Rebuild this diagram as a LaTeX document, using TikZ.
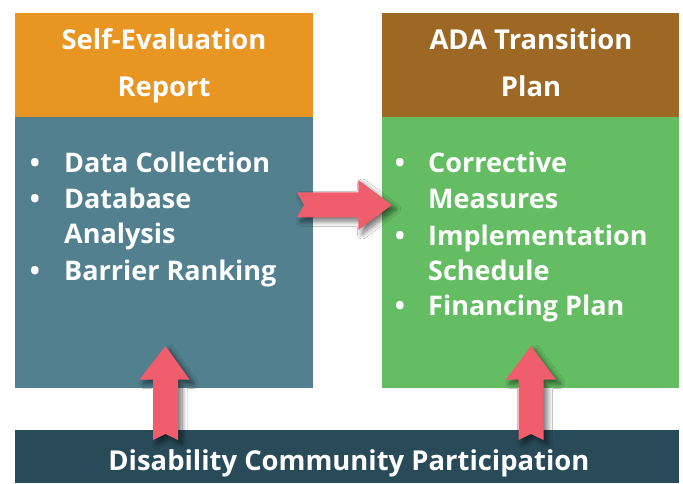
\documentclass[tikz,border=0pt]{standalone}
\usepackage{fontspec}
\setmainfont{Open Sans}
\usetikzlibrary{shadows.blur}
\definecolor{hdrorange}{HTML}{E89522}
\definecolor{bodyblue}{HTML}{52808F}
\definecolor{hdrbrown}{HTML}{9C6823}
\definecolor{bodygreen}{HTML}{64BD63}
\definecolor{barteal}{HTML}{294A59}
\definecolor{arrowpink}{HTML}{F05E6E}
\tikzset{
  panel/.style={rectangle, inner sep=0pt, outer sep=0pt, anchor=south west},
  hdrtext/.style={text=white, font=\bfseries\fontsize{27.4}{34}\selectfont, anchor=base, inner sep=0pt},
  itemtext/.style={text=white, font=\bfseries\fontsize{27}{30}\selectfont, anchor=base west, inner sep=0pt},
  bullettext/.style={text=white, font=\bfseries\fontsize{27}{30}\selectfont, anchor=base, inner sep=0pt},
  bigarrow/.style={fill=arrowpink, draw=none, blur shadow={shadow xshift=4pt, shadow yshift=-4pt, shadow blur steps=10, shadow blur radius=5pt, shadow opacity=55}},
}
\begin{document}
\begin{tikzpicture}[x=1pt,y=1pt]
\useasboundingbox (0,0) rectangle (683,483);
\fill[white] (0,0) rectangle (683,483);
% panels
\node[panel, fill=bodyblue, minimum width=298pt, minimum height=271pt] (lbody) at (15,95) {};
\node[panel, fill=hdrorange, minimum width=298pt, minimum height=104pt] (lhead) at (15,366) {};
\node[panel, fill=bodygreen, minimum width=297pt, minimum height=271pt] (rbody) at (382,95) {};
\node[panel, fill=hdrbrown, minimum width=297pt, minimum height=104pt] (rhead) at (382,366) {};
\node[panel, fill=barteal, minimum width=664pt, minimum height=53pt] (bar) at (15,0) {};
% header texts
\node[hdrtext] (lh1) at (164,433) {Self-Evaluation};
\node[hdrtext] (lh2) at (164,386) {Report};
\node[hdrtext] (rh1) at (531,433) {ADA Transition};
\node[hdrtext] (rh2) at (531,386) {Plan};
% left items
\node[bullettext] (lb1) at (35,311) {•};
\node[itemtext] (li1) at (64,311) {Data Collection};
\node[bullettext] (lb2) at (35,275) {•};
\node[itemtext] (li2) at (64,275) {Database};
\node[itemtext] (li3) at (64,240) {Analysis};
\node[bullettext] (lb3) at (35,203) {•};
\node[itemtext] (li4) at (64,203) {Barrier Ranking};
% right items
\node[bullettext] (rb1) at (400,311) {•};
\node[itemtext] (ri1) at (428,311) {Corrective};
\node[itemtext] (ri2) at (428,275) {Measures};
\node[bullettext] (rb2) at (400,238) {•};
\node[itemtext] (ri3) at (428,238) {Implementation};
\node[itemtext] (ri4) at (428,203) {Schedule};
\node[bullettext] (rb3) at (400,168) {•};
\node[itemtext] (ri5) at (428,168) {Financing Plan};
% bar text
\node[hdrtext] (bt) at (349,13) {Disability Community Participation};
% arrows
\path[bigarrow] (297,290.7) -- (304,278) -- (297,265.7) -- (358.3,265.7) -- (358.3,253) -- (391.7,278) -- (358.3,303) -- (358.3,290.7) -- cycle;
\path[bigarrow] (153,43) -- (165.5,49) -- (178,43) -- (178,103.5) -- (189.5,103.5) -- (165.5,137) -- (139.5,103.5) -- (153,103.5) -- cycle;
\path[bigarrow] (518.5,43) -- (531,49) -- (543.5,43) -- (543.5,103.5) -- (556,103.5) -- (531,137) -- (506,103.5) -- (518.5,103.5) -- cycle;
\end{tikzpicture}
\end{document}
